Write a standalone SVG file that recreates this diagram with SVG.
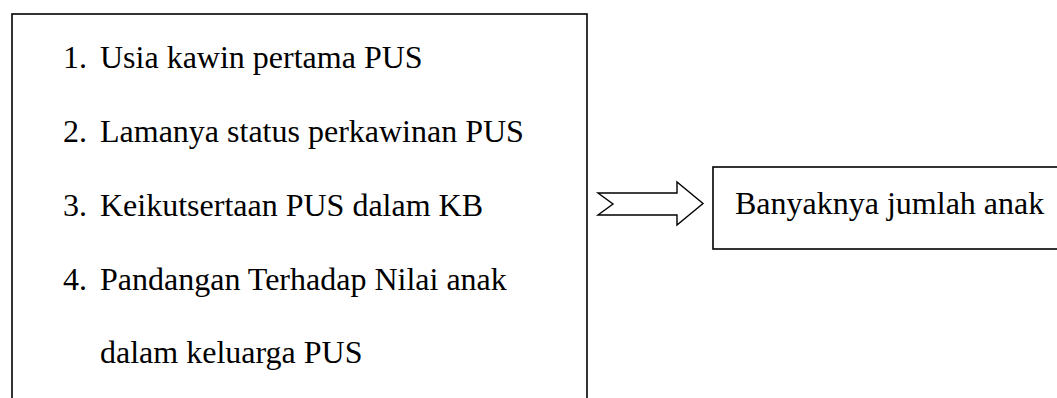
<svg xmlns="http://www.w3.org/2000/svg" width="1057" height="398" viewBox="0 0 1057 398">
  <style>
    .box { fill: #ffffff; stroke: #000000; stroke-width: 1.6; }
    .txt { font-family: "Liberation Serif", "Times New Roman", serif; font-size: 32px; fill: #000000; }
    .arrow { fill: #ffffff; stroke: #000000; stroke-width: 1.4; stroke-linejoin: miter; }
  </style>
  <rect width="1057" height="398" fill="#ffffff"/>

  <!-- factors box (bottom edge runs off the page) -->
  <g id="factors">
    <rect class="box" x="12" y="14" width="575" height="420"/>
    <text class="txt" x="63" y="68">1.</text>
    <text class="txt" x="100" y="68">Usia kawin pertama PUS</text>
    <text class="txt" x="63" y="142">2.</text>
    <text class="txt" x="100" y="142">Lamanya status perkawinan PUS</text>
    <text class="txt" x="63" y="216">3.</text>
    <text class="txt" x="100" y="216">Keikutsertaan PUS dalam KB</text>
    <text class="txt" x="63" y="290">4.</text>
    <text class="txt" x="100" y="290">Pandangan Terhadap Nilai anak</text>
    <text class="txt" x="100" y="363">dalam keluarga PUS</text>
  </g>

  <!-- outcome box (right edge runs off the page) -->
  <g id="outcome">
    <rect class="box" x="713" y="167" width="360" height="82"/>
    <text class="txt" x="735" y="214">Banyaknya jumlah anak</text>
  </g>

  <!-- block arrow from factors to outcome -->
  <g id="connectors">
    <path class="arrow" d="M598,193 L677,193 L677,182 L703,203.5 L677,225 L677,215 L598,215 L613,204 Z"/>
  </g>
</svg>
